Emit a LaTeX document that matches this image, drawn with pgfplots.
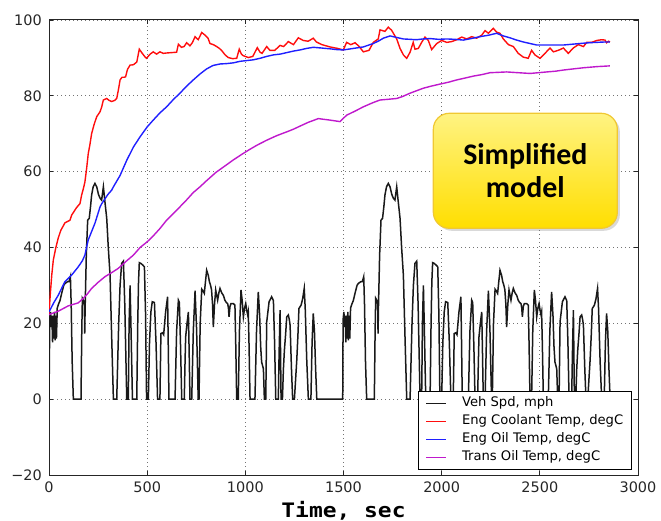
\documentclass[border=0pt]{standalone}
\usepackage{fontspec}
\setmainfont{DejaVu Sans}
\newfontfamily\monob[FakeStretch=1.15]{DejaVu Sans Mono}
\newfontfamily\carlito{Carlito}
\usepackage{pgfplots}
\pgfplotsset{compat=1.18}
\usetikzlibrary{shadows}
\definecolor{mplred}{rgb}{1,0.05,0.05}
\definecolor{mplblue}{rgb}{0.12,0.12,1}
\definecolor{mplmag}{rgb}{0.75,0.1,0.8}
\definecolor{boxtop}{RGB}{255,243,130}
\definecolor{boxbot}{RGB}{255,222,0}
\definecolor{boxedge}{RGB}{240,200,50}
\begin{document}
\begin{tikzpicture}
\begin{axis}[
  at={(0,0)}, anchor=south west,
  scale only axis, width=589bp, height=455bp,
  xmin=0, xmax=3000, ymin=-20, ymax=100,
  xtick={0,500,1000,1500,2000,2500,3000},
  ytick={-20,0,20,40,60,80,100},
  xticklabels={0,500,1000,1500,2000,2500,3000},
  yticklabels={−20,0,20,40,60,80,100},
  tick label style={font=\fontsize{14.5}{17}\selectfont, text=black!85},
  xticklabel style={inner sep=0pt, yshift=-6.5bp},
  yticklabel style={inner sep=0pt, xshift=-7bp},
  grid=major,
  major grid style={black!55, line width=0.8bp, dash pattern=on 1bp off 3bp},
  axis line style={line width=1bp, black!85},
  tick style={black!85, line width=0.8bp},
  major tick length=4bp,
  tick align=inside,
  xlabel={Time, sec},
  every axis x label/.style={at={(rel axis cs:0.5,0)}, anchor=base, yshift=-42bp,
    font=\monob\bfseries\fontsize{20}{24}\selectfont},
  legend cell align=left,
  legend image code/.code={\draw[#1] (0bp,0bp) -- (20bp,0bp);},
  legend style={at={(0.9893,0.011)}, anchor=south east,
    fill=white, line width=0.9bp, font=\fontsize{13.2}{15}\selectfont,
    inner xsep=7bp, inner ysep=5bp, row sep=3.5bp,
    nodes={inner sep=1bp, text height=9.5bp, text depth=3bp},
    /tikz/every odd column/.append style={column sep=14bp}},
]
\addplot[draw=black!90, line width=1.5bp] coordinates {
(0,0)(4,21)(8,23)(12,19)(15,22)(18,15)(21,22)(24,16)(28,23)(31,15.5)(34,22)(38,16)(42,24)(48,25)(56,26)(65,28)(75,30)(81,30.5)(95,31)(102,31)(109,32.3)(113,25)(118,10)(124,0)(163,0)(167,18)(170,26.6)(176,26)(180,25)(182,17.3)(184,24)(190,38)(197,47.2)(205,47.7)(212,51)(217,53.8)(225,56)(234,56.9)(243,56)(252,54)(260,53)(268,52.5)(277,56)(285,52)(294,47.7)(302,40)(311,32.7)(320,15)(328,0)(345,0)(355,20)(362,30)(370,35.8)(379,36.4)(386,25)(396,0)(404,0)(408,20)(413,30)(418,18)(425,0)(447,0)(452,20)(456,31)(460,36)(468,35.8)(477,35.4)(486,34.9)(492,22)(497,0)(506,0)(512,15)(519,23)(526,25.7)(537,25.5)(545,15)(553,0)(565,0)(570,17.3)(578,17.5)(584,17)(594,23)(599,25)(604,27)(608,12)(611,0)(642,0)(650,18)(659,26.1)(664,25.5)(670,14)(676,0)(689,0)(693,10)(696,16.4)(703,20)(710,23)(714,12)(718,0)(727,0)(735,18)(744,28.6)(752,18)(760,0)(764,0)(770,20)(778,29)(785,28.5)(791,27.9)(797,31)(803,34)(811,32.7)(817,31)(823,30)(828,28.8)(833,25)(837,19)(843,25)(849,28.8)(859,26.1)(865,28)(871,29.2)(880,28)(888,27.4)(896,26.1)(903,25.5)(910,25.2)(914,24)(917,21.7)(922,24.5)(927,25.2)(939,25.2)(947,24.8)(951,15)(956,0)(964,0)(970,18)(978,28.8)(984,26)(990,21.7)(996,24)(1002,25.2)(1007,23.5)(1012,22.2)(1015,23)(1019,14)(1024,0)(1049,0)(1057,18)(1066,28.3)(1073,22)(1078,14)(1083,9.8)(1092,8)(1097,0)(1104,0)(1109,20.4)(1121,25.7)(1134,27)(1143,26)(1149,15)(1155,0)(1168,0)(1172,12)(1177,23.5)(1182,0)(1189,0)(1194,8)(1199,12.9)(1205,17)(1211,21.7)(1219,22.2)(1224,21)(1228,19.5)(1235,8)(1241,0)(1250,0)(1262,10.3)(1268,17)(1273,23.9)(1284,24.8)(1292,26.5)(1300,29.2)(1305,24)(1313,10)(1321,0)(1334,0)(1340,15)(1346,22.6)(1352,18)(1358,8)(1364,0)
(1496,0)(1498,21)(1502,23)(1506,19)(1509,22)(1512,15)(1515,22)(1518,16)(1522,23)(1525,15.5)(1528,22)(1532,16)(1536,24)(1542,25)(1550,26)(1559,28)(1569,30)(1575,30.5)(1589,31)(1596,31)(1603,32.3)(1607,25)(1612,10)(1618,0)(1657,0)(1661,18)(1664,26.6)(1670,26)(1674,25)(1676,17.3)(1678,24)(1684,38)(1691,47.2)(1699,47.7)(1706,51)(1711,53.8)(1719,56)(1728,56.9)(1737,56)(1746,54)(1754,53)(1762,52.5)(1771,56)(1779,52)(1788,47.7)(1796,40)(1805,32.7)(1814,15)(1822,0)(1839,0)(1849,20)(1856,30)(1864,35.8)(1873,36.4)(1880,25)(1890,0)(1898,0)(1902,20)(1907,30)(1912,18)(1919,0)(1941,0)(1946,20)(1950,31)(1954,36)(1962,35.8)(1971,35.4)(1980,34.9)(1986,22)(1991,0)(2000,0)(2006,15)(2013,23)(2020,25.7)(2031,25.5)(2039,15)(2047,0)(2059,0)(2064,17.3)(2072,17.5)(2078,17)(2088,23)(2093,25)(2098,27)(2102,12)(2105,0)(2136,0)(2144,18)(2153,26.1)(2158,25.5)(2164,14)(2170,0)(2183,0)(2187,10)(2190,16.4)(2197,20)(2204,23)(2208,12)(2212,0)(2221,0)(2229,18)(2238,28.6)(2246,18)(2254,0)(2258,0)(2264,20)(2272,29)(2279,28.5)(2285,27.9)(2291,31)(2297,34)(2305,32.7)(2311,31)(2317,30)(2322,28.8)(2327,25)(2331,19)(2337,25)(2343,28.8)(2353,26.1)(2359,28)(2365,29.2)(2374,28)(2382,27.4)(2390,26.1)(2397,25.5)(2404,25.2)(2408,24)(2411,21.7)(2416,24.5)(2421,25.2)(2433,25.2)(2441,24.8)(2445,15)(2450,0)(2458,0)(2464,18)(2472,28.8)(2478,26)(2484,21.7)(2490,24)(2496,25.2)(2501,23.5)(2506,22.2)(2509,23)(2513,14)(2518,0)(2543,0)(2551,18)(2560,28.3)(2567,22)(2572,14)(2577,9.8)(2586,8)(2591,0)(2598,0)(2603,20.4)(2615,25.7)(2628,27)(2637,26)(2643,15)(2649,0)(2662,0)(2666,12)(2671,23.5)(2676,0)(2683,0)(2688,8)(2693,12.9)(2699,17)(2705,21.7)(2713,22.2)(2718,21)(2722,19.5)(2729,8)(2735,0)(2744,0)(2756,10.3)(2762,17)(2767,23.9)(2778,24.8)(2786,26.5)(2794,29.2)(2799,24)(2807,10)(2815,0)(2828,0)(2834,15)(2840,22.6)(2846,18)(2852,8)(2858,0)
};
\addlegendentry{Veh Spd, mph}
\addplot[draw=mplred, line width=1.4bp] coordinates {
(0,22.5)(7,28)(14,32.7)(22,36.7)(35,40)(47,42.5)(60,44.5)(81,46.5)(107,47.2)(115,48.5)(140,50.5)(158,51.6)(166,53.8)(175,55.5)(183,57.3)(192,61)(200,64.8)(208,67)(217,70)(230,72.5)(243,74.5)(260,75.8)(268,77)(277,78.9)(294,79.3)(306,78.8)(319,78.5)(335,78.8)(345,79.3)(355,82)(362,84.2)(372,84.9)(382,84.9)(390,85)(400,87)(413,88.1)(430,88.2)(447,88.9)(460,92.3)(475,91.2)(490,90.2)(497,89.9)(515,91)(531,91.6)(548,91)(565,91.6)(582,91.2)(599,91.3)(650,91.5)(659,93.6)(675,92.8)(688,93)(701,94)(718,93.2)(730,94)(744,95.6)(760,94.8)(778,96.7)(795,96)(810,95.2)(820,93.8)(837,93.5)(854,93)(868,92.5)(880,91.9)(897,90.8)(913,90.1)(935,89.8)(956,89.9)(969,92.3)(980,91)(989,90.6)(1015,90.1)(1038,90.4)(1061,92.7)(1075,91.5)(1085,91.2)(1109,93)(1125,92)(1150,92)(1177,93.3)(1195,93)(1219,94.3)(1245,93.5)(1270,95.3)(1295,94.6)(1320,94.4)(1346,95.2)(1362,94.2)(1390,93.5)(1431,92.9)(1470,92.5)(1499,92.1)(1516,94.1)(1537,93.5)(1559,94)(1580,93)(1601,91.6)(1630,92)(1652,94.1)(1677,95)(1686,97.4)(1711,97)(1728,98.1)(1745,97.3)(1771,95)(1788,92.5)(1805,90.8)(1822,89.9)(1839,91.5)(1855,94.1)(1864,92.3)(1881,92.5)(1898,94.1)(1915,95.5)(1932,94.6)(1949,92.2)(1975,93.8)(2000,94.6)(2026,94.1)(2051,94.3)(2077,94.8)(2102,95.5)(2128,95)(2153,95.6)(2178,95.2)(2204,96)(2221,97.2)(2238,96.5)(2263,97.8)(2280,96.8)(2297,96.5)(2314,95)(2340,93.5)(2365,93)(2390,91.2)(2416,90.2)(2441,89.9)(2458,92)(2475,90.8)(2501,89.9)(2526,91.2)(2552,92.6)(2569,91.6)(2594,92)(2620,92.6)(2645,91.2)(2670,92.6)(2696,93.5)(2722,93)(2739,94.1)(2764,94.1)(2790,94.6)(2815,94.8)(2832,94.7)(2840,94)(2850,94.4)(2857,94.2)
};
\addlegendentry{Eng Coolant Temp, degC}
\addplot[draw=mplblue, line width=1.4bp] coordinates {
(0,23)(25,25.5)(47,27.4)(81,31)(115,32.7)(149,34.9)(170,36.5)(183,38)(192,40.2)(200,42)(234,46.4)(260,50.7)(268,51.5)(300,54)(319,55.1)(328,56)(362,59)(396,63)(430,66.5)(464,69.2)(500,71.8)(531,73.6)(565,75.5)(599,77.1)(633,79)(667,80.7)(700,82.5)(735,84.2)(770,85.8)(803,87.1)(835,88)(871,88.4)(905,88.5)(939,88.7)(973,89.1)(1007,89.3)(1041,89.5)(1075,89.9)(1109,90.4)(1143,90.8)(1177,91)(1211,91.4)(1245,91.8)(1278,92.1)(1312,92.5)(1346,92.8)(1390,92.6)(1431,92.4)(1465,92.2)(1499,92.1)(1550,92.5)(1601,92.9)(1652,93.8)(1680,94.5)(1703,95.2)(1737,95.8)(1770,95.4)(1805,95)(1840,94.9)(1872,94.8)(1905,95)(1941,95.1)(1985,94.9)(2026,95)(2068,94.9)(2110,94.7)(2150,95.1)(2195,95.6)(2240,96)(2280,96.5)(2314,95.8)(2348,95.3)(2382,94.7)(2416,94.2)(2450,93.8)(2484,93.4)(2550,93.4)(2620,93.4)(2662,93.6)(2705,93.8)(2750,94)(2790,94.1)(2830,94.2)(2857,94.2)
};
\addlegendentry{Eng Oil Temp, degC}
\addplot[draw=mplmag, line width=1.4bp] coordinates {
(0,22.3)(47,23.2)(98,24.6)(149,25.4)(175,26.6)(196,27.8)(217,29.2)(250,30.8)(285,32.3)(320,33.4)(353,34.5)(396,36.5)(430,38)(464,40)(500,41.5)(530,43)(565,45)(599,47.2)(659,50.3)(700,52.5)(735,54.5)(769,56)(800,57.5)(850,59.8)(896,61.5)(939,63.1)(980,64.5)(1020,65.8)(1060,67)(1109,68.3)(1160,69.5)(1211,70.5)(1245,71.2)(1278,72)(1320,73)(1372,74)(1400,73.8)(1431,73.6)(1482,73.2)(1516,74.9)(1560,76)(1601,77.1)(1650,78.2)(1686,78.9)(1730,79.1)(1771,79.3)(1800,79.8)(1839,80.7)(1870,81.3)(1906,82)(1950,82.6)(1992,83.1)(2035,83.6)(2077,84.2)(2120,84.7)(2161,85.2)(2205,85.6)(2246,86.1)(2290,86.2)(2331,86.3)(2390,86.1)(2450,85.9)(2535,86.3)(2580,86.5)(2620,86.8)(2670,87.1)(2722,87.4)(2790,87.7)(2857,87.9)
};
\addlegendentry{Trans Oil Temp, degC}
\coordinate (boxc) at (rel axis cs:0.8087,0.6686);
\end{axis}
\node[draw=boxedge, line width=1.2bp, rounded corners=16bp, top color=boxtop, bottom color=boxbot,
  minimum width=184bp, minimum height=115bp, align=center,
  font=\carlito\bfseries\fontsize{30}{33.5}\selectfont,
  drop shadow={shadow xshift=2.5bp, shadow yshift=-2.5bp, opacity=0.3}]
  at (boxc) {Simplified\\model};
\pgfresetboundingbox
\path (-49bp,-46bp) rectangle (612bp,475bp);
\end{tikzpicture}
\end{document}
